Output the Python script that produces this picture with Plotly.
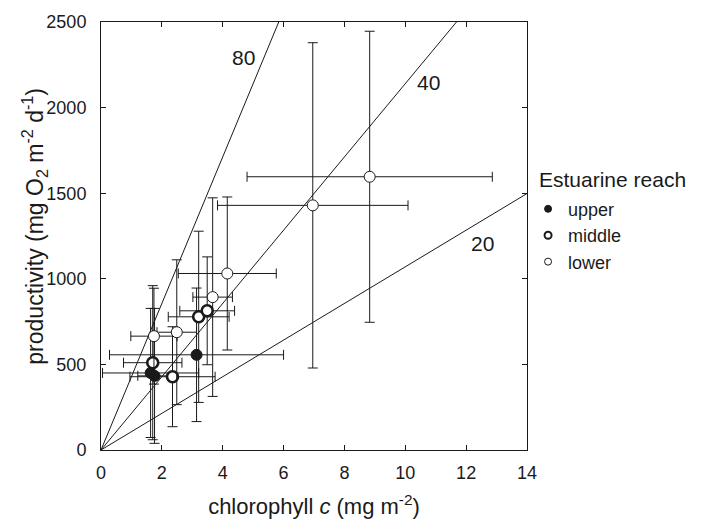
import plotly.graph_objects as go

# chlorophyll c (mg m-2) and productivity (mg O2 m-2 d-1), by estuarine reach
upper_x = [1.63, 1.76, 3.14]
upper_y = [450, 433, 556]
upper_xerr = [1.58, 0.55, 2.86]
upper_yerr = [377, 394, 390]

middle_x = [1.70, 2.35, 3.21, 3.49]
middle_y = [510, 428, 778, 813]
middle_xerr = [0.96, 1.40, 1.00, 0.90]
middle_yerr = [450, 292, 500, 315]

lower_x = [1.74, 2.49, 3.67, 4.15, 6.96, 8.83]
lower_y = [665, 688, 893, 1031, 1429, 1596]
lower_xerr = [0.76, 0.65, 0.65, 1.61, 3.13, 4.03]
lower_yerr = [280, 423, 580, 447, 950, 850]

# reference lines: ratio label and slope in plot units
ratio_labels = ["80", "40", "20"]
ratio_slopes = [428, 214, 107]
label_x = [4.67, 10.75, 12.55]
label_y = [2294, 2148, 1208]

FONT = "Liberation Sans, Arial, Helvetica, sans-serif"
INK = "#1a1a1a"

fig = go.Figure()

# ratio lines through the origin (clipped by the axes)
for slope in ratio_slopes:
    fig.add_trace(go.Scatter(
        x=[0, 14], y=[0, slope * 14], mode="lines",
        line=dict(color=INK, width=1), showlegend=False, hoverinfo="skip"
    ))


def err(arr):
    return dict(type="data", array=arr, visible=True, color=INK, thickness=1, width=5)


series = [
    ("upper", upper_x, upper_y, upper_xerr, upper_yerr, dict(color=INK, size=11, line=dict(color=INK, width=1))),
    ("middle", middle_x, middle_y, middle_xerr, middle_yerr, dict(color="white", size=11, line=dict(color=INK, width=2.6))),
    ("lower", lower_x, lower_y, lower_xerr, lower_yerr, dict(color="white", size=11, line=dict(color=INK, width=1))),
]

for name, xs, ys, xe, ye, mk in series:
    fig.add_trace(go.Scatter(
        x=xs, y=ys, mode="markers", name=name, marker=mk,
        error_x=err(xe), error_y=err(ye), showlegend=False
    ))

# legend entries with small symbols
legend_marks = {
    "upper": dict(color=INK, size=7, line=dict(color=INK, width=1)),
    "middle": dict(color="white", size=7, line=dict(color=INK, width=2)),
    "lower": dict(color="white", size=7, line=dict(color=INK, width=1)),
}
for name, mk in legend_marks.items():
    fig.add_trace(go.Scatter(x=[None], y=[None], mode="markers", name=name, marker=mk))

for txt, lx, ly in zip(ratio_labels, label_x, label_y):
    fig.add_annotation(x=lx, y=ly, text=txt, showarrow=False,
                       font=dict(family=FONT, size=21, color=INK))

fig.add_annotation(x=1.024, y=0.631, xref="paper", yref="paper",
                   xanchor="left", yanchor="middle", showarrow=False,
                   text="Estuarine reach", font=dict(family=FONT, size=21, color=INK))

# y axis title placed by hand
fig.add_annotation(x=-0.156, y=0.523, xref="paper", yref="paper",
                   xanchor="center", yanchor="middle", showarrow=False, textangle=-90,
                   text="productivity (mg O<sub>2</sub> m<sup>-2</sup> d<sup>-1</sup>)",
                   font=dict(family=FONT, size=23, color=INK))

axis_common = dict(
    showline=True, linecolor=INK, linewidth=1, mirror="ticks",
    ticks="inside", ticklen=5, tickwidth=1, tickcolor=INK,
    showgrid=False, zeroline=False, automargin=False,
    tickfont=dict(family=FONT, size=18, color=INK),
)

# page body adds an 8 px margin, so the figure is 8 px smaller each way
fig.update_layout(
    width=697, height=517,
    margin=dict(l=93, r=178, t=14, b=75),
    paper_bgcolor="white", plot_bgcolor="white",
    font=dict(family=FONT, size=18, color=INK),
    xaxis=dict(
        range=[0, 14], tickvals=[0, 2, 4, 6, 8, 10, 12, 14],
        title=dict(text="chlorophyll <i>c</i> (mg m<sup>-2</sup>)", standoff=17,
                   font=dict(family=FONT, size=22, color=INK)),
        ticklabelstandoff=6,
        **axis_common
    ),
    yaxis=dict(
        range=[0, 2500], tickvals=[0, 500, 1000, 1500, 2000, 2500],
        ticklabelstandoff=10,
        **axis_common
    ),
    legend=dict(
        x=1.0025, y=0.606, xanchor="left", yanchor="top",
        font=dict(family=FONT, size=18, color=INK),
        bgcolor="rgba(0,0,0,0)", itemwidth=30, tracegroupgap=0,
    ),
    showlegend=True,
)

fig.write_html("out.html")
